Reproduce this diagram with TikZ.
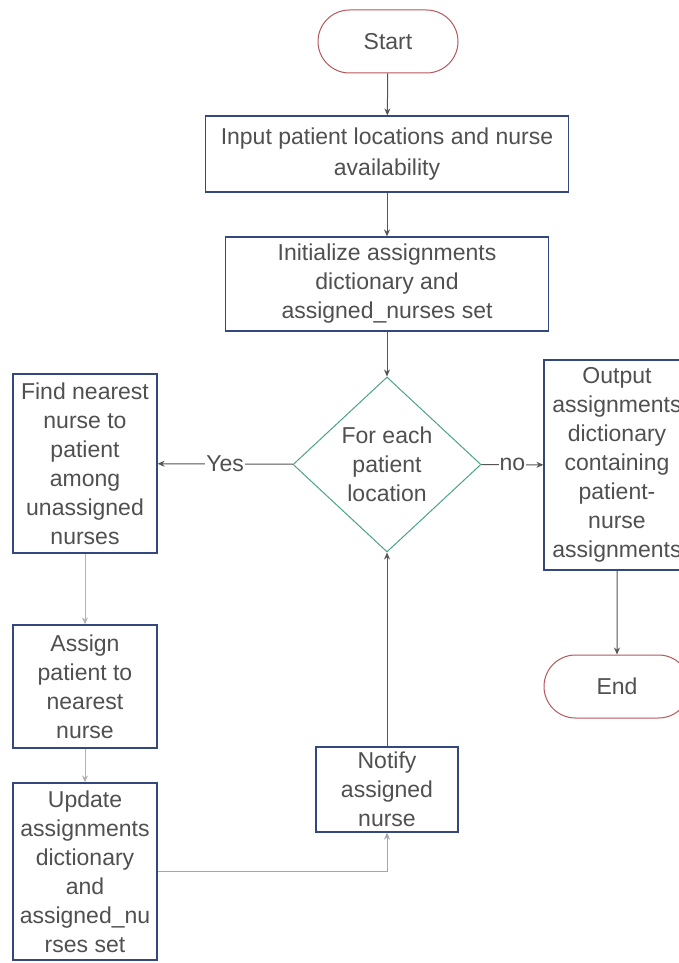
\documentclass[tikz,border=0pt]{standalone}
\usepackage{fontspec}
\setmainfont{Liberation Sans}
\usetikzlibrary{shapes.geometric,shapes.misc,arrows.meta}
\definecolor{boxblue}{HTML}{34477F}
\definecolor{termred}{HTML}{B5595C}
\definecolor{diagreen}{HTML}{4BA38C}
\definecolor{txtgray}{HTML}{505050}
\definecolor{linegray}{HTML}{555555}
\tikzset{
  every node/.style={font=\fontsize{23}{29}\selectfont, text=txtgray},
  procbox/.style={draw=boxblue, line width=1.2pt, rectangle, align=center, inner sep=0pt},
  termbox/.style={draw=termred, line width=1pt, rounded rectangle, align=center, inner sep=0pt},
  decbox/.style={draw=diagreen, line width=1pt, diamond, align=center, inner sep=0pt},
  flow/.style={draw=linegray, line width=1pt, -{Stealth[length=7pt,width=6pt]}},
  lbl/.style={fill=white, inner sep=1pt}
}
\begin{document}
\begin{tikzpicture}[x=1pt,y=-1pt]
\useasboundingbox (0,0) rectangle (679,963);
\fill[white] (0,0) rectangle (679,963);

\node[termbox, minimum width=140pt, minimum height=63pt] (start) at (388,41.5) {Start};
\node[procbox, minimum width=363pt, minimum height=76pt, font=\fontsize{23}{31}\selectfont] (input) at (387,154) {Input patient locations and nurse\\availability};
\node[procbox, minimum width=323pt, minimum height=94pt] (init) at (387,284) {Initialize assignments\\dictionary and\\assigned\_nurses set};
\node[decbox, minimum width=188pt, minimum height=175pt] (dec) at (387,464.5) {For each\\patient\\location};
\node[procbox, minimum width=144pt, minimum height=179pt] (find) at (85,463.5) {Find nearest\\nurse to\\patient\\among\\unassigned\\nurses};
\node[procbox, minimum width=144pt, minimum height=123pt] (assign) at (85,686.5) {Assign\\patient to\\nearest\\nurse};
\node[procbox, minimum width=144pt, minimum height=177pt] (update) at (85,871.5) {Update\\assignments\\dictionary\\and\\assigned\_nu\\rses set};
\node[procbox, minimum width=142pt, minimum height=85pt] (notify) at (387,789.5) {Notify\\assigned\\nurse};
\node[procbox, minimum width=146pt, minimum height=210pt] (output) at (617,465) {Output\\assignments\\dictionary\\containing\\patient-\\nurse\\assignments};
\node[termbox, minimum width=146pt, minimum height=63pt] (end) at (617,686.5) {End};

\draw[flow] (start) -- (input);
\draw[flow] (input) -- (init);
\draw[flow] (init) -- (dec);
\draw[flow] (dec) -- node[lbl] {Yes} (find);
\draw[flow] (dec) -- node[lbl] {no} (output);
\draw[flow, draw=gray!60] (find) -- (assign);
\draw[flow, draw=gray!60] (assign) -- (update);
\draw[flow, draw=gray!70] (update) -| (notify);
\draw[flow] (notify) -- (dec);
\draw[flow] (output) -- (end);
\end{tikzpicture}
\end{document}
